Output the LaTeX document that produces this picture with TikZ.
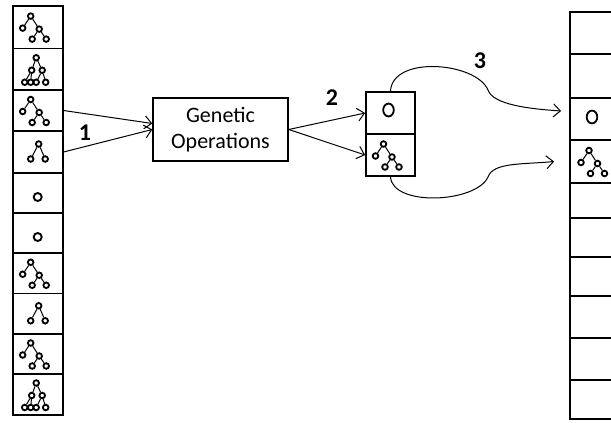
\documentclass[tikz,border=0pt]{standalone}
\usepackage{fontspec}
\setmainfont{Carlito}
\usetikzlibrary{shapes.geometric,arrows.meta}

\tikzset{
  cell/.style={draw, line width=0.9pt, minimum width=25pt, inner sep=0pt},
  vx/.style={draw, circle, line width=0.9pt, minimum size=2.8pt, inner sep=0pt},
  twig/.style={line width=0.5pt},
  bigo/.style={draw, ellipse, line width=0.9pt, minimum width=5.3pt, minimum height=6.4pt, inner sep=0pt},
  conn/.style={-{Straight Barb[length=3.5pt,width=6.5pt]}, line width=0.5pt},
  lbl/.style={font=\fontsize{12}{14}\selectfont\bfseries},
  treeA/.pic={
    \node[vx] (-r) at (-7,-11) {};
    \node[vx] (-a) at (-15,1) {};
    \node[vx] (-b) at (1.5,2) {};
    \node[vx] (-c) at (-5.5,12) {};
    \node[vx] (-d) at (8.5,12) {};
    \draw[twig] (-r) -- (-a) (-r) -- (-b) (-b) -- (-c) (-b) -- (-d);
  },
  treeB/.pic={
    \node[vx] (-r) at (-1.5,-11.5) {};
    \node[vx] (-a) at (-6,1) {};
    \node[vx] (-b) at (4.5,1) {};
    \node[vx] (-c) at (-13,13) {};
    \node[vx] (-d) at (-7,13) {};
    \node[vx] (-e) at (-1.5,13) {};
    \node[vx] (-f) at (8,13) {};
    \draw[twig] (-r) -- (-a) (-r) -- (-b) (-a) -- (-c) (-a) -- (-d) (-b) -- (-e) (-b) -- (-f);
  },
  treeC/.pic={
    \node[vx] (-r) at (1,-8) {};
    \node[vx] (-a) at (-7,7) {};
    \node[vx] (-b) at (7.5,7) {};
    \draw[twig] (-r) -- (-a) (-r) -- (-b);
  },
  onenode/.pic={
    \node[vx, minimum size=4pt, line width=0.95pt] (-r) at (0,4) {};
  },
}

\begin{document}
\begin{tikzpicture}[x=0.5pt, y=-0.5pt]
\useasboundingbox (0,0) rectangle (611,423);
\clip (0,0) rectangle (611,423);

% population before
\foreach \i/\t/\b in {1/5.7/48.5, 2/48.5/90, 3/90/131, 4/131/173, 5/173/213,
    6/213/253, 7/253/293.5, 8/293.5/334, 9/334/374, 10/374/415} {
  \pgfmathsetmacro\h{(\b-\t)*0.5}
  \node[cell, minimum height=\h pt] (L\i) at (37.7, {(\t+\b)/2}) {};
}
\foreach \i/\p in {1/treeA, 2/treeB, 3/treeA, 4/treeC, 5/onenode,
    6/onenode, 7/treeA, 8/treeC, 9/treeA, 10/treeB}
  \pic (L\i) at (L\i) {\p};

% genetic operations
\node[draw, line width=0.7pt, minimum width=67.5pt, minimum height=31.5pt,
  align=center, font=\fontsize{11}{13}\selectfont] (GO) at (220.5,129.5) {Genetic\\Operations};

% offspring
\node[cell, minimum width=24.5pt, minimum height=21pt] (M1) at (390.5,113) {};
\node[cell, minimum width=24.5pt, minimum height=21pt] (M2) at (390.5,155) {};
\node[bigo] (M1-o) at ([xshift=-1pt,yshift=1.5pt]M1) {};
\pic (M2) at (M2) {treeA};

% population after
\foreach \i/\t/\b in {1/12/54, 2/54/98, 3/98/140, 4/140/183, 5/183/218,
    6/218/257, 7/257/296, 8/296/338, 9/338/380, 10/380/419} {
  \pgfmathsetmacro\h{(\b-\t)*0.5}
  \node[cell, minimum height=\h pt] (R\i) at (595, {(\t+\b)/2}) {};
}
\node[bigo] (R3-o) at ([xshift=-1.5pt,yshift=1pt]R3) {};
\pic (R4) at ([xshift=0.5pt]R4) {treeA};

% step 1
\draw[conn] (L3.east) -- ([yshift=3pt]GO.west);
\draw[conn] (L4.east) -- (GO.west);
\node[lbl] (n1) at (85,133) {1};

% step 2
\draw[conn] (GO.east) -- (M1.west);
\draw[conn] (GO.east) -- (M2.west);
\node[lbl] (n2) at (332,98) {2};

% step 3
\coordinate (bendT) at (488,90);
\coordinate (bendB) at (488,177);
\coordinate (t3) at ([xshift=-4pt,yshift=4pt]R3.west);
\coordinate (t4) at ([xshift=-7.5pt]R4.west);
\draw[conn] (M1.north) .. controls +(2,-36) and +(-12,-28) .. (bendT)
  .. controls +(5,15) and +(-30,-2) .. (t3);
\draw[conn] (M2.south) .. controls +(2,30) and +(-12,26) .. (bendB)
  .. controls +(5,-15) and +(-30,3) .. (t4);
\node[lbl] (n3) at (480,61) {3};
\end{tikzpicture}
\end{document}
